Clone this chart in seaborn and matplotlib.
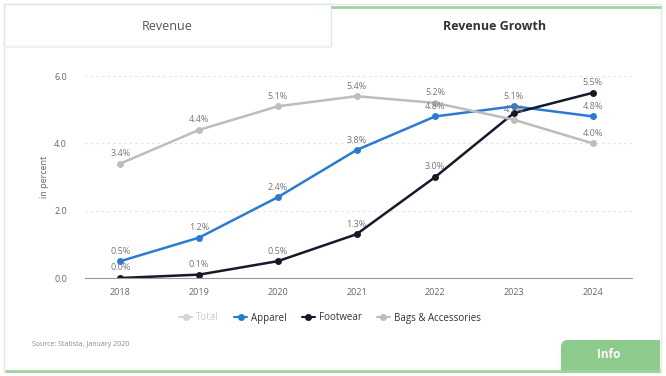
import numpy as np
import pandas as pd
import matplotlib
matplotlib.use("Agg")
import matplotlib.pyplot as plt
from matplotlib.patches import Rectangle, FancyBboxPatch
from matplotlib.lines import Line2D
import seaborn as sns

years = ["2018", "2019", "2020", "2021", "2022", "2023", "2024"]
apparel = [0.5, 1.2, 2.4, 3.8, 4.8, 5.1, 4.8]
footwear = [0.0, 0.1, 0.5, 1.3, 3.0, 4.9, 5.5]
bags = [3.4, 4.4, 5.1, 5.4, 5.2, 4.7, 4.0]
series_names = ["Apparel", "Footwear", "Bags & Accessories"]
legend_names = ["Total", "Apparel", "Footwear", "Bags & Accessories"]
# label hidden in the reference because it collides with its neighbours
hidden_labels = {("Footwear", "2023")}

colors = {"Total": "#d4d4d4", "Apparel": "#2b7bd6",
          "Footwear": "#141a2a", "Bags & Accessories": "#bdbdbd"}

df = pd.DataFrame({
    "year": years * 3,
    "value": apparel + footwear + bags,
    "series": sum([[n] * len(years) for n in series_names], []),
})
df["x"] = df["year"].map({y: i for i, y in enumerate(years)})

sns.set_style("white")
plt.rcParams["font.family"] = ["Open Sans", "DejaVu Sans"]

fig = plt.figure(figsize=(6.66, 3.76), dpi=100)

# background card drawn in pixel coordinates
bg = fig.add_axes([0, 0, 1, 1])
bg.set_xlim(0, 666)
bg.set_ylim(376, 0)
bg.axis("off")
bg.add_patch(Rectangle((4, 4), 657, 368, facecolor="white", edgecolor="#e6e6e6", lw=1))
bg.add_patch(Rectangle((4, 4), 327, 42, facecolor="white", edgecolor="#e4e4e4", lw=1))
bg.add_patch(Rectangle((4, 46), 327, 2, facecolor="#f1f1f1", edgecolor="none"))
bg.plot([331, 661], [7, 7], color="#9fd49f", lw=2, solid_capstyle="butt")
bg.text(167, 26, "Revenue", ha="center", va="center", fontsize=9, color="#555555")
bg.text(495, 27, "Revenue Growth", ha="center", va="center", fontsize=9,
        fontweight="bold", color="#333333")
bg.plot([5, 660], [371, 371], color="#9fd49f", lw=2, solid_capstyle="butt")
bg.add_patch(FancyBboxPatch((561, 340), 99, 33, boxstyle="round,pad=0,rounding_size=7",
                            facecolor="#8ccb8c", edgecolor="none"))
bg.add_patch(Rectangle((561, 352), 99, 21, facecolor="#8ccb8c", edgecolor="none"))
bg.add_patch(Rectangle((575, 340), 85, 20, facecolor="#8ccb8c", edgecolor="none"))
bg.text(609, 355, "Info", ha="center", va="center", fontsize=8.5,
        fontweight="bold", color="white")
bg.text(32, 344, "Source: Statista, January 2020", ha="left", va="center",
        fontsize=5, color="#888888")

# main chart
ax = fig.add_axes([85 / 666, 1 - 278 / 376, 547 / 666, 202 / 376])
ax.patch.set_alpha(0)
sns.lineplot(data=df, x="x", y="value", hue="series", hue_order=series_names,
             palette=colors, marker="o", markersize=5, markeredgewidth=0,
             linewidth=1.8, legend=False, ax=ax)

for name, vals in zip(series_names, [apparel, footwear, bags]):
    for i, v in enumerate(vals):
        if (name, years[i]) in hidden_labels:
            continue
        ax.annotate(f"{v:.1f}%", (i, v), xytext=(0, 4), textcoords="offset points",
                    ha="center", va="bottom", fontsize=6.5, color="#777777", zorder=6)

ax.set_xlim(-0.45, 6.5)
ax.set_ylim(0, 6)
ax.set_xticks(range(len(years)))
ax.set_xticklabels(years)
ax.set_yticks([0, 2, 4, 6])
ax.set_yticklabels(["0.0", "2.0", "4.0", "6.0"])
ax.tick_params(axis="both", labelsize=6.5, colors="#666666", length=0, pad=7)
ax.tick_params(axis="y", pad=13)
ax.set_xlabel("")
ax.set_ylabel("in percent", fontsize=6.5, color="#666666", labelpad=4)
ax.grid(axis="y", color="#e2e2e2", linestyle=(0, (2, 3)), lw=0.8)
for side in ["top", "right", "left"]:
    ax.spines[side].set_visible(False)
ax.spines["bottom"].set_color("#999999")
ax.spines["bottom"].set_linewidth(0.8)

handles = [Line2D([0], [0], color=colors[n], marker="o", markersize=4, lw=1.5)
           for n in legend_names]
leg = fig.legend(handles, legend_names, loc="center", bbox_to_anchor=(330 / 666, 1 - 318 / 376),
                 ncol=4, frameon=False, fontsize=7, handlelength=1.3, columnspacing=1.6,
                 handletextpad=0.4)
for t, n in zip(leg.get_texts(), legend_names):
    t.set_color("#cccccc" if n == "Total" else "#333333")

fig.savefig("out.png", dpi=100)
